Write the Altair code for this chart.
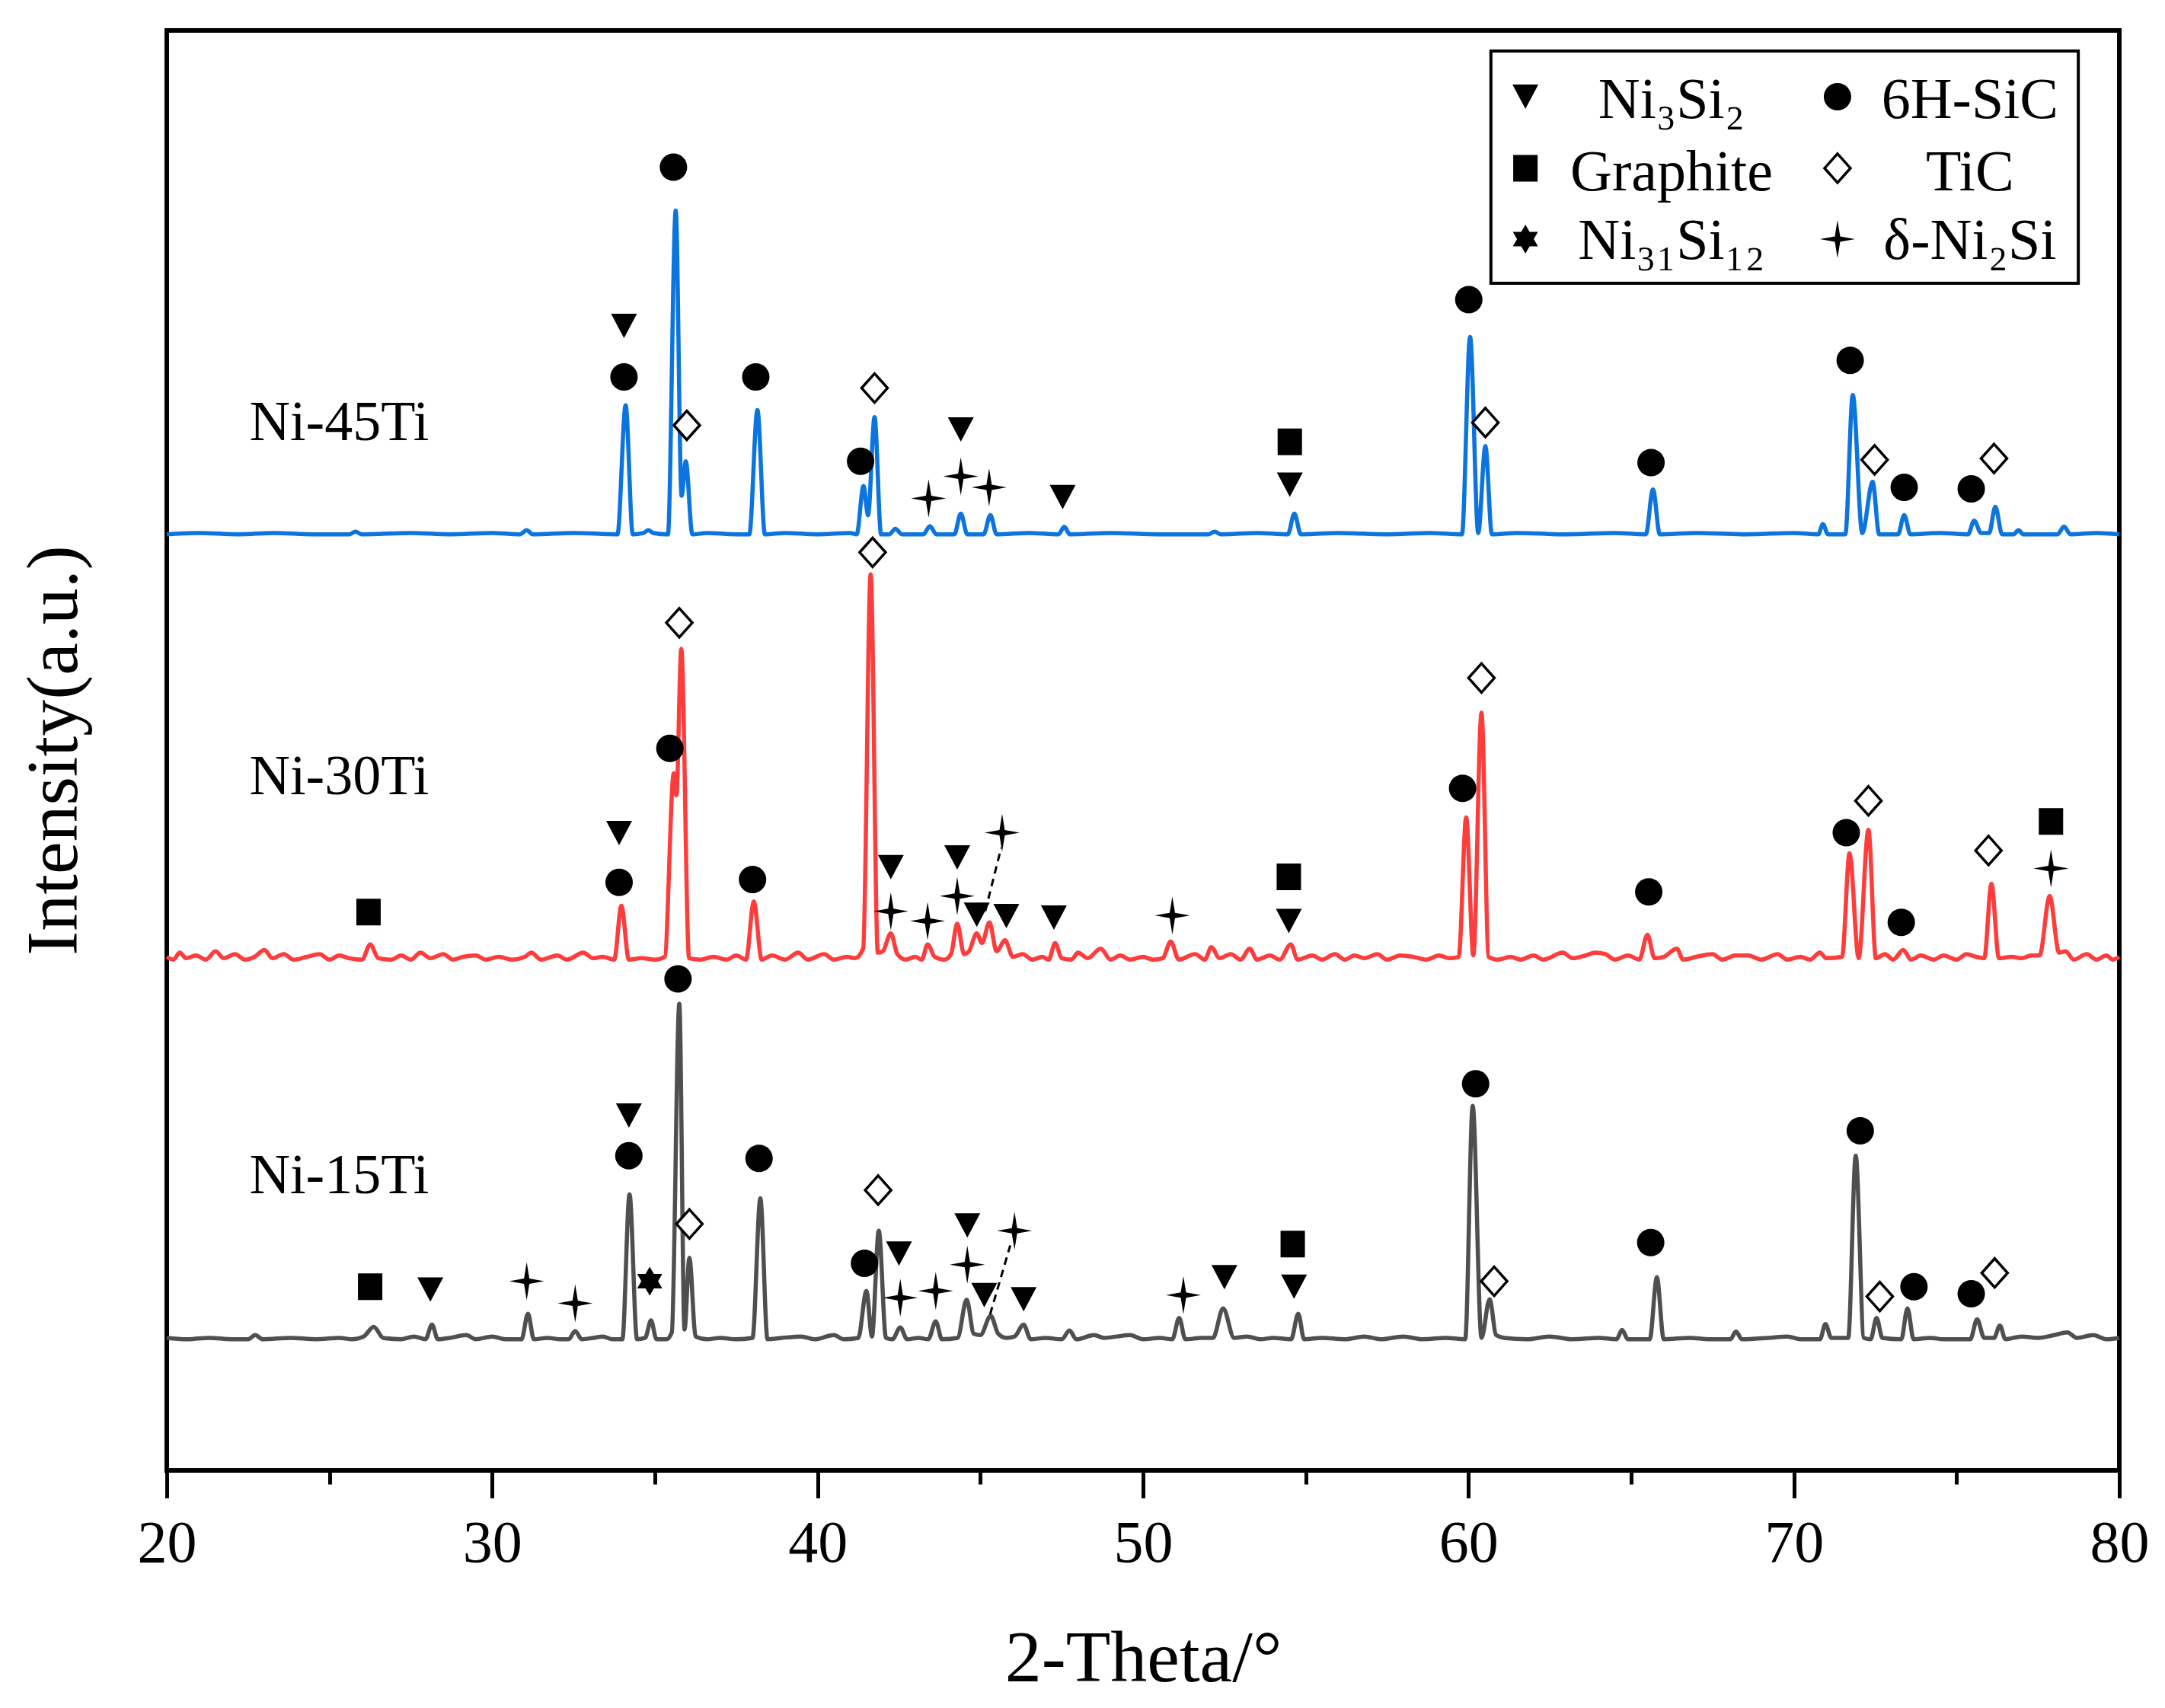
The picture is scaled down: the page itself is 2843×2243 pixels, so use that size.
import altair as alt
import pandas as pd

# ---------------- data ----------------
# Each pattern: (2-theta in degrees, intensity above the pattern's own baseline, a.u.)
ni45 = [
    (20.0, 0), (21.0, 1), (22.2, 0), (23.3, 1), (24.5, 0), (25.6, 0), (25.8, 2), (26.0, 0),
    (27.5, 1), (28.7, 0), (30.0, 1), (30.85, 0), (31.06, 3), (31.25, 0), (32.5, 1), (33.85, 0),
    (34.1, 93.5), (34.32, 0), (34.65, 1), (34.8, 3), (34.95, 1), (35.4, 0), (35.64, 234.5),
    (35.82, 28), (35.95, 53), (36.15, 0), (36.6, 1), (37.5, 0), (37.9, 0), (38.15, 90), (38.38, 0),
    (39.0, 1), (40.0, 0), (41.0, 1), (41.2, 0), (41.41, 35), (41.55, 14), (41.75, 85), (41.95, 0),
    (42.2, 0), (42.39, 4), (42.6, 0), (43.25, 0), (43.45, 6), (43.65, 0), (44.2, 0), (44.4, 15),
    (44.6, 0), (45.1, 0), (45.31, 14), (45.5, 0), (46.5, 1), (47.4, 0), (47.58, 5.5), (47.75, 0),
    (49.0, 1), (50.5, 0), (52.0, 0), (52.2, 2), (52.4, 0), (53.5, 1), (54.45, 0), (54.65, 15),
    (54.85, 0), (56.0, 1), (57.5, 0), (58.8, 1), (59.8, 0), (60.05, 143), (60.3, 1), (60.52, 64),
    (60.72, 0), (61.5, 1), (63.0, 0), (64.5, 1), (65.45, 0), (65.67, 32.6), (65.88, 0), (67.0, 1),
    (68.5, 0), (70.0, 1), (70.75, 0), (70.89, 7.4), (71.05, 0), (71.58, 0), (71.81, 101), (72.1, 1),
    (72.42, 38), (72.62, 0), (73.2, 0), (73.39, 14), (73.58, 0), (74.5, 1), (75.35, 0), (75.54, 10),
    (75.75, 1), (76.0, 1), (76.19, 20), (76.4, 0), (76.75, 0), (76.9, 3), (77.05, 0), (78.1, 0),
    (78.3, 5.6), (78.5, 0), (79.3, 1), (80.0, 0),
]
ni30 = [
    (20.0, 2), (20.2, 0), (20.4, 5), (20.6, 1), (20.9, 3), (21.2, 0), (21.5, 6), (21.75, 1),
    (22.1, 4), (22.4, 0), (22.7, 2), (23.0, 7), (23.25, 1), (23.6, 4), (23.9, 0), (24.3, 2),
    (24.7, 4), (25.0, 0), (25.3, 3), (25.6, 1), (26.0, 0), (26.25, 11), (26.5, 1), (26.9, 0),
    (27.2, 3), (27.5, 0), (27.8, 5), (28.1, 1), (28.5, 4), (28.8, 0), (29.1, 2), (29.5, 3),
    (29.8, 0), (30.2, 2), (30.6, 0), (31.0, 2), (31.2, 5), (31.5, 0), (32.0, 3), (32.3, 0),
    (32.8, 5), (33.1, 1), (33.4, 2), (33.75, 0), (33.97, 39), (34.2, 0), (34.6, 1), (35.0, 0),
    (35.3, 2), (35.58, 135), (35.66, 119), (35.81, 225), (36.05, 1), (36.4, 0), (36.8, 2),
    (37.2, 0), (37.5, 3), (37.8, 0), (38.04, 42), (38.28, 0), (38.6, 3), (39.0, 0), (39.4, 5),
    (39.7, 0), (40.2, 4), (40.5, 0), (40.9, 2), (41.15, 1), (41.4, 8), (41.63, 279), (41.85, 5),
    (42.0, 6), (42.25, 19), (42.45, 4), (42.7, 0), (43.0, 2), (43.2, 0), (43.38, 11), (43.6, 2),
    (43.9, 0), (44.1, 4), (44.29, 26), (44.5, 4), (44.65, 6), (44.89, 19), (45.05, 12), (45.28, 27),
    (45.5, 6), (45.76, 14), (46.0, 2), (46.3, 4), (46.6, 0), (46.9, 2), (47.1, 0), (47.3, 12),
    (47.5, 1), (47.8, 0), (48.0, 5), (48.3, 1), (48.7, 8), (49.0, 0), (49.3, 3), (49.6, 0),
    (50.0, 2), (50.3, 0), (50.6, 1), (50.85, 13), (51.1, 0), (51.6, 4), (51.9, 0), (52.1, 9),
    (52.35, 1), (52.7, 4), (53.0, 0), (53.28, 8), (53.5, 0), (53.9, 3), (54.2, 0), (54.54, 11),
    (54.75, 0), (55.2, 3), (55.5, 0), (55.9, 4), (56.2, 0), (56.5, 3), (56.8, 1), (57.2, 4),
    (57.5, 0), (57.9, 3), (58.3, 2), (58.7, 0), (59.1, 3), (59.4, 1), (59.7, 2), (59.93, 103),
    (60.15, 3), (60.4, 179), (60.62, 2), (60.9, 0), (61.3, 2), (61.6, 0), (62.0, 3), (62.3, 0),
    (62.9, 5), (63.2, 1), (63.6, 3), (63.9, 5), (64.2, 4), (64.5, 0), (64.9, 3), (65.25, 0),
    (65.5, 18), (65.72, 1), (66.0, 2), (66.4, 8), (66.6, 0), (67.0, 2), (67.5, 4), (67.8, 0),
    (68.2, 3), (68.6, 3), (69.0, 0), (69.5, 4), (69.8, 0), (70.2, 2), (70.5, 0), (70.8, 5),
    (71.0, 1), (71.48, 2), (71.71, 77), (71.99, 1), (72.29, 94), (72.52, 1), (72.8, 4), (73.05, 0),
    (73.36, 7), (73.6, 0), (73.9, 3), (74.3, 0), (74.6, 3), (75.0, 0), (75.3, 4), (75.6, 2),
    (75.85, 1), (76.07, 55), (76.3, 1), (76.7, 2), (77.0, 1), (77.3, 3), (77.55, 3), (77.86, 46),
    (78.15, 5), (78.35, 6), (78.6, 0), (79.0, 4), (79.3, 0), (79.6, 3), (79.8, 0), (80.0, 2),
]
ni15 = [
    (20.0, 1), (20.6, 0), (21.3, 1), (22.0, 0), (22.5, 0), (22.72, 3), (22.95, 0), (23.8, 1),
    (24.6, 0), (25.3, 1), (25.7, 0), (26.05, 2), (26.36, 9), (26.65, 1), (27.2, 0), (27.6, 2),
    (27.95, 0), (28.15, 10.6), (28.33, 0), (28.7, 1), (29.2, 3), (29.5, 0), (30.0, 2), (30.4, 0),
    (30.9, 0), (31.1, 18.5), (31.28, 0), (31.7, 1), (32.1, 0), (32.35, 0), (32.55, 6), (32.75, 0),
    (33.1, 1), (33.4, 2), (33.7, 0), (34.0, 0), (34.22, 105), (34.45, 0), (34.7, 1), (34.88, 13.6),
    (35.05, 0), (35.35, 0), (35.52, 5), (35.75, 243), (35.91, 7), (36.06, 59), (36.25, 2),
    (36.6, 0), (37.0, 1), (37.5, 0), (38.0, 1), (38.24, 102), (38.46, 0), (38.9, 1), (39.5, 2),
    (39.9, 0), (40.5, 3), (40.8, 0), (41.25, 1), (41.5, 35), (41.67, 2), (41.88, 78.6), (42.1, 1),
    (42.3, 0), (42.54, 8.6), (42.75, 0), (43.1, 1), (43.4, 0), (43.63, 13), (43.82, 0), (44.3, 1),
    (44.58, 28.7), (44.8, 4), (45.0, 3), (45.32, 17), (45.55, 4), (45.8, 1), (46.05, 2),
    (46.33, 10.6), (46.55, 0), (47.0, 1), (47.5, 0), (47.74, 6.3), (47.95, 0), (48.5, 3), (48.8, 1),
    (49.2, 2), (49.6, 3), (50.0, 0), (50.5, 1), (50.9, 0), (51.11, 15.5), (51.3, 0), (51.8, 1),
    (52.15, 1), (52.46, 22.4), (52.8, 1), (53.2, 2), (53.6, 0), (54.0, 1), (54.55, 0), (54.77, 18.5),
    (54.95, 0), (55.5, 1), (56.2, 0), (56.8, 2), (57.3, 0), (58.0, 2), (58.6, 0), (59.3, 1),
    (59.9, 0), (60.13, 169), (60.4, 1), (60.65, 29), (60.85, 3), (61.1, 1), (61.8, 0), (62.5, 2),
    (63.2, 0), (64.0, 1), (64.55, 0), (64.72, 6.7), (64.9, 0), (65.57, 0), (65.79, 45), (66.0, 0),
    (66.8, 1), (67.4, 0), (68.05, 0), (68.22, 5.7), (68.4, 0), (69.2, 1), (69.8, 2), (70.2, 0),
    (70.8, 0), (70.97, 11), (71.15, 1), (71.67, 1), (71.9, 133), (72.15, 1), (72.36, 0),
    (72.54, 15.5), (72.72, 1), (73.3, 0), (73.49, 22.4), (73.68, 0), (74.2, 1), (74.6, 0),
    (75.42, 0), (75.63, 14.5), (75.85, 1), (76.15, 1), (76.33, 10), (76.5, 0), (77.0, 2),
    (77.5, 1), (78.0, 3), (78.4, 5), (78.7, 1), (79.2, 3), (79.6, 0), (80.0, 1),
]

SAMPLES = ["Ni-45Ti", "Ni-30Ti", "Ni-15Ti"]
SAMPLE_COLORS = ["#0B74DE", "#FF3C3C", "#4F4F4F"]
SAMPLE_OFFSETS = [678, 370, 95]          # vertical stacking offsets (a.u.)
SAMPLE_LABEL_LEVEL = [746, 490, 201]     # baseline of the sample name (a.u.)
SAMPLE_LABEL_THETA = 25.3

# Phase markers: (phase, 2-theta, level in a.u.)
marks45 = [
    ("Ni3Si2", 34.05, 829), ("6H-SiC", 34.05, 792), ("6H-SiC", 35.57, 944), ("TiC", 35.98, 757),
    ("6H-SiC", 38.1, 792), ("6H-SiC", 41.32, 731), ("TiC", 41.75, 784), ("d-Ni2Si", 43.41, 704),
    ("Ni3Si2", 44.4, 754), ("d-Ni2Si", 44.4, 720), ("d-Ni2Si", 45.27, 712), ("Ni3Si2", 47.53, 705),
    ("Graphite", 54.51, 745), ("Ni3Si2", 54.51, 714), ("6H-SiC", 60.01, 848), ("TiC", 60.52, 759),
    ("6H-SiC", 65.61, 730), ("6H-SiC", 71.73, 804), ("TiC", 72.48, 732), ("6H-SiC", 73.39, 712),
    ("6H-SiC", 75.45, 711), ("TiC", 76.15, 733),
]
marks30 = [
    ("Graphite", 26.2, 404.5), ("Ni3Si2", 33.9, 461.6), ("6H-SiC", 33.9, 426), ("6H-SiC", 35.46, 523),
    ("TiC", 35.75, 614), ("6H-SiC", 38.0, 428), ("TiC", 41.69, 665), ("Ni3Si2", 42.25, 437),
    ("d-Ni2Si", 42.25, 405), ("d-Ni2Si", 43.38, 398), ("Ni3Si2", 44.29, 444), ("d-Ni2Si", 44.29, 416),
    ("Ni3Si2", 44.89, 402.5), ("Ni3Si2", 45.8, 401.5), ("d-Ni2Si", 45.67, 462), ("Ni3Si2", 47.26, 400.5),
    ("d-Ni2Si", 50.9, 402), ("Graphite", 54.48, 430), ("Ni3Si2", 54.48, 398), ("6H-SiC", 59.82, 494),
    ("TiC", 60.4, 574), ("6H-SiC", 65.54, 419), ("6H-SiC", 71.61, 462), ("TiC", 72.29, 485),
    ("6H-SiC", 73.3, 397), ("TiC", 75.98, 449), ("Graphite", 77.9, 470), ("d-Ni2Si", 77.9, 436),
]
marks15 = [
    ("Graphite", 26.25, 133), ("Ni3Si2", 28.1, 131), ("d-Ni2Si", 31.06, 137), ("d-Ni2Si", 32.55, 121),
    ("Ni3Si2", 34.2, 257), ("6H-SiC", 34.2, 228), ("Ni31Si12", 34.84, 137), ("6H-SiC", 35.71, 356),
    ("TiC", 36.06, 178.5), ("6H-SiC", 38.2, 226), ("6H-SiC", 41.44, 150), ("TiC", 41.86, 203),
    ("Ni3Si2", 42.5, 157), ("d-Ni2Si", 42.54, 125), ("d-Ni2Si", 43.63, 130), ("Ni3Si2", 44.6, 177.5),
    ("d-Ni2Si", 44.6, 149), ("Ni3Si2", 45.12, 127), ("d-Ni2Si", 46.05, 173.6), ("Ni3Si2", 46.33, 124),
    ("d-Ni2Si", 51.24, 127), ("Ni3Si2", 52.5, 140), ("Graphite", 54.6, 164), ("Ni3Si2", 54.64, 133),
    ("6H-SiC", 60.22, 280), ("TiC", 60.79, 137), ("6H-SiC", 65.6, 165), ("6H-SiC", 72.04, 246),
    ("TiC", 72.64, 126), ("6H-SiC", 73.69, 133), ("6H-SiC", 75.45, 128), ("TiC", 76.17, 143),
]

# Dashed guide lines (2-theta, level)
dash30 = [(45.64, 451), (45.15, 405)]
dash15 = [(45.92, 163), (45.30, 113)]

# Legend
PHASES = ["Ni3Si2", "Graphite", "Ni31Si12", "6H-SiC", "TiC", "d-Ni2Si"]
PHASE_LABELS = ["Ni\u2083Si\u2082", "Graphite", "Ni\u2083\u2081Si\u2081\u2082",
                "6H-SiC", "TiC", "\u03b4-Ni\u2082Si"]

# ---------------- styling ----------------
FONT = "Liberation Serif, DejaVu Serif, serif"
PATHS = [
    "M-0.68,-0.64L0.68,-0.64L0,0.64Z",                                   # triangle down
    "M-0.64,-0.7H0.64V0.7H-0.64Z",                                       # square
    "M0,-0.76L0.22,-0.38L0.658,-0.38L0.439,0L0.658,0.38L0.22,0.38L0,0.76"
    "L-0.22,0.38L-0.658,0.38L-0.439,0L-0.658,-0.38L-0.22,-0.38Z",        # hexagram
    "M0.72,0A0.72,0.72 0 1,1 -0.72,0A0.72,0.72 0 1,1 0.72,0Z",           # circle
    "M0,-0.76L0.68,0L0,0.76L-0.68,0Z",                                   # diamond
    "M0,-1L0.14,-0.14L0.92,0L0.14,0.14L0,1L-0.14,0.14L-0.92,0L-0.14,-0.14Z",  # 4-point star
]
SYMBOL_SIZE = 2500

# ---------------- tables ----------------
rows = []
for name, pts, off in zip(SAMPLES, [ni45, ni30, ni15], SAMPLE_OFFSETS):
    for t, v in pts:
        rows.append({"sample": name, "theta": t, "level": off + v})
df_lines = pd.DataFrame(rows)

mrows = []
for name, ms in zip(SAMPLES, [marks45, marks30, marks15]):
    for ph, t, lv in ms:
        mrows.append({"sample": name, "phase": ph, "theta": t, "level": lv})
df_marks = pd.DataFrame(mrows)

df_dash = pd.DataFrame(
    [{"g": "a", "theta": t, "level": l} for t, l in dash30]
    + [{"g": "b", "theta": t, "level": l} for t, l in dash15]
)

df_names = pd.DataFrame({"sample": SAMPLES, "theta": [SAMPLE_LABEL_THETA] * 3,
                         "level": SAMPLE_LABEL_LEVEL})

# legend layout (in data coordinates)
LEG_SYM_X = [61.75, 71.34]
LEG_TXT_X = [66.24, 75.41]
LEG_SYM_Y = [995.0, 943.2, 891.9]
LEG_TXT_Y = [979.6, 927.2, 877.5]
leg = []
for i, (ph, lab) in enumerate(zip(PHASES, PHASE_LABELS)):
    c, r = divmod(i, 3)
    leg.append({"phase": ph, "label": lab, "sx": LEG_SYM_X[c], "sy": LEG_SYM_Y[r],
                "tx": LEG_TXT_X[c], "ty": LEG_TXT_Y[r]})
df_leg = pd.DataFrame(leg)
df_box = pd.DataFrame([{"x": 60.69, "x2": 78.74, "y": 1028.1, "y2": 859.9}])

# ---------------- chart ----------------
xs = alt.Scale(domain=[20, 80], nice=False, zero=False)
ys = alt.Scale(domain=[0, 1043], nice=False, zero=False)
shape_scale = alt.Scale(domain=PHASES, range=PATHS)

x_axis = alt.Axis(
    values=list(range(20, 81, 5)),
    title="2-Theta/\u00b0",
    labelExpr="datum.value % 10 === 0 ? datum.label : ''",
    tickSize={"condition": {"test": "datum.value % 10 === 0", "value": 36}, "value": 18},
    tickWidth=5, tickColor="black", domain=False, grid=False,
    labelFont=FONT, labelFontSize=78, labelColor="black", labelFlush=False,
    labelOverlap=False, labelBaseline="alphabetic", labelPadding=83,
    titleFont=FONT, titleFontSize=96, titleFontWeight="normal", titleColor="black",
    titleBaseline="alphabetic", titleY=276,
)
y_axis = alt.Axis(
    title="Intensity(a.u.)", labels=False, ticks=False, domain=False, grid=False,
    titleFont=FONT, titleFontSize=96, titleFontWeight="normal", titleColor="black",
    titleBaseline="alphabetic", titleX=-119, titleY=945, titleAngle=270, titleAlign="center",
)

X = alt.X("theta:Q", scale=xs, axis=x_axis)
Y = alt.Y("level:Q", scale=ys, axis=y_axis)

lines = alt.Chart(df_lines).mark_line(interpolate="monotone", strokeWidth=5.5).encode(
    x=X, y=Y,
    color=alt.Color("sample:N", scale=alt.Scale(domain=SAMPLES, range=SAMPLE_COLORS), legend=None),
)

filled = alt.Chart(df_marks[df_marks.phase != "TiC"]).mark_point(
    filled=True, opacity=1, color="black", size=SYMBOL_SIZE
).encode(
    x=alt.X("theta:Q", scale=xs), y=alt.Y("level:Q", scale=ys),
    shape=alt.Shape("phase:N", scale=shape_scale, legend=None),
)
hollow = alt.Chart(df_marks[df_marks.phase == "TiC"]).mark_point(
    filled=True, opacity=1, fill="white", stroke="black", strokeWidth=3.5, size=SYMBOL_SIZE
).encode(
    x=alt.X("theta:Q", scale=xs), y=alt.Y("level:Q", scale=ys),
    shape=alt.Shape("phase:N", scale=shape_scale, legend=None),
)

dashes = alt.Chart(df_dash).mark_line(strokeDash=[10, 7], strokeWidth=3, color="black").encode(
    x=alt.X("theta:Q", scale=xs), y=alt.Y("level:Q", scale=ys), detail="g:N",
)

names = alt.Chart(df_names).mark_text(
    font=FONT, fontSize=74, align="center", baseline="alphabetic", color="black"
).encode(x=alt.X("theta:Q", scale=xs), y=alt.Y("level:Q", scale=ys), text="sample:N")

box = alt.Chart(df_box).mark_rect(fill="white", stroke="black", strokeWidth=4).encode(
    x=alt.X("x:Q", scale=xs), x2="x2:Q", y=alt.Y("y:Q", scale=ys), y2="y2:Q",
)
leg_filled = alt.Chart(df_leg[df_leg.phase != "TiC"]).mark_point(
    filled=True, opacity=1, color="black", size=SYMBOL_SIZE
).encode(
    x=alt.X("sx:Q", scale=xs), y=alt.Y("sy:Q", scale=ys),
    shape=alt.Shape("phase:N", scale=shape_scale, legend=None),
)
leg_hollow = alt.Chart(df_leg[df_leg.phase == "TiC"]).mark_point(
    filled=True, opacity=1, fill="white", stroke="black", strokeWidth=3.5, size=SYMBOL_SIZE
).encode(
    x=alt.X("sx:Q", scale=xs), y=alt.Y("sy:Q", scale=ys),
    shape=alt.Shape("phase:N", scale=shape_scale, legend=None),
)
leg_text = alt.Chart(df_leg).mark_text(
    font=FONT, fontSize=76, align="center", baseline="alphabetic", color="black"
).encode(x=alt.X("tx:Q", scale=xs), y=alt.Y("ty:Q", scale=ys), text="label:N")

chart = alt.layer(
    lines, dashes, filled, hollow, names, box, leg_filled, leg_hollow, leg_text
).properties(
    width=2564, height=1891,
    background="white",
    autosize=alt.AutoSizeParams(type="none"),
    padding={"left": 211, "top": 32, "right": 50, "bottom": 300},
).configure_view(
    stroke="black", strokeWidth=6
)

chart.save("out.html", embed_options={"renderer": "svg", "actions": False})
